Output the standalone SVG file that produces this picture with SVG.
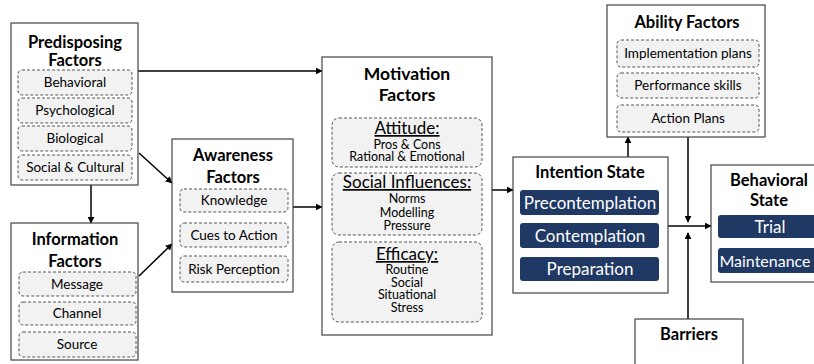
<svg xmlns="http://www.w3.org/2000/svg" width="814" height="364" viewBox="0 0 814 364">
<defs>
<marker id="ah" viewBox="0 0 10 10" refX="9" refY="5" markerWidth="7" markerHeight="7" markerUnits="userSpaceOnUse" orient="auto"><path d="M0,0 L10,5 L0,10 z" fill="#000"/></marker>
<style>
.box{fill:#fff;stroke:#444;stroke-width:1.2}
.sub{fill:#f2f2f2;stroke:#555;stroke-width:1;stroke-dasharray:3,2}
.navy{fill:#203864;stroke:none}
.t{font-family:Lato,"Liberation Sans",sans-serif;font-weight:bold;font-size:16.5px;fill:#000;text-anchor:middle}
.s{font-family:Lato,"Liberation Sans",sans-serif;font-size:13.5px;fill:#000;text-anchor:middle}
.m{font-family:Lato,"Liberation Sans",sans-serif;font-size:12.5px;fill:#000;text-anchor:middle}
.h{font-family:Lato,"Liberation Sans",sans-serif;font-size:17px;fill:#000;text-anchor:middle;text-decoration:underline}
.w{font-family:Lato,"Liberation Sans",sans-serif;font-size:17px;fill:#fff;text-anchor:middle}
.c{fill:none;stroke:#000;stroke-width:1.5}
</style>
</defs>
<rect width="814" height="364" fill="#fff"/>
<g id="connectors">
<path class="c" d="M138,71 H322" marker-end="url(#ah)"/>
<path class="c" d="M91,185 V223" marker-end="url(#ah)"/>
<path class="c" d="M139,153 L172,183" marker-end="url(#ah)"/>
<path class="c" d="M139,276 L172,244" marker-end="url(#ah)"/>
<path class="c" d="M293,207 H322" marker-end="url(#ah)"/>
<path class="c" d="M492,190 H513" marker-end="url(#ah)"/>
<path class="c" d="M628,157 V137" marker-end="url(#ah)"/>
<path class="c" d="M688,137 V222" marker-end="url(#ah)"/>
<path class="c" d="M668,226 H711" marker-end="url(#ah)"/>
<path class="c" d="M688,319 V233" marker-end="url(#ah)"/>
</g>
<g id="predisposing">
<rect class="box" x="11" y="23" width="127" height="162"/>
<text class="t" x="75" y="48">Predisposing</text>
<text class="t" x="75" y="66">Factors</text>
<rect class="sub" x="18" y="70" width="114" height="25" rx="4"/>
<text class="s" x="75" y="87">Behavioral</text>
<rect class="sub" x="18" y="98" width="114" height="25" rx="4"/>
<text class="s" x="75" y="115">Psychological</text>
<rect class="sub" x="18" y="126" width="114" height="25" rx="4"/>
<text class="s" x="75" y="143">Biological</text>
<rect class="sub" x="18" y="155" width="114" height="25" rx="4"/>
<text class="s" x="75" y="172">Social &amp; Cultural</text>
</g>
<g id="information">
<rect class="box" x="11" y="223" width="127" height="137"/>
<text class="t" x="75" y="245">Information</text>
<text class="t" x="75" y="267">Factors</text>
<rect class="sub" x="19" y="272" width="117" height="24" rx="4"/>
<text class="s" x="77" y="289">Message</text>
<rect class="sub" x="19" y="302" width="117" height="23" rx="4"/>
<text class="s" x="77" y="318">Channel</text>
<rect class="sub" x="19" y="332" width="117" height="25" rx="4"/>
<text class="s" x="77" y="349">Source</text>
</g>
<g id="awareness">
<rect class="box" x="172" y="139" width="121" height="153"/>
<text class="t" x="233" y="161">Awareness</text>
<text class="t" x="233" y="183">Factors</text>
<rect class="sub" x="180" y="189" width="108" height="23" rx="4"/>
<text class="s" x="234" y="205">Knowledge</text>
<rect class="sub" x="180" y="223" width="108" height="24" rx="4"/>
<text class="s" x="234" y="240">Cues to Action</text>
<rect class="sub" x="180" y="256" width="108" height="26" rx="4"/>
<text class="s" x="234" y="274">Risk Perception</text>
</g>
<g id="motivation">
<rect class="box" x="322" y="57" width="170" height="278"/>
<text class="t" x="407" y="80" style="font-size:17.5px">Motivation</text>
<text class="t" x="407" y="101" style="font-size:17.5px">Factors</text>
<rect class="sub" x="332" y="118" width="150" height="49" rx="7"/>
<text class="h" x="407" y="134">Attitude:</text>
<text class="m" x="407" y="149">Pros &amp; Cons</text>
<text class="m" x="407" y="161">Rational &amp; Emotional</text>
<rect class="sub" x="332" y="173" width="150" height="62" rx="7"/>
<text class="h" x="407" y="188">Social Influences:</text>
<text class="m" x="407" y="203">Norms</text>
<text class="m" x="407" y="217">Modelling</text>
<text class="m" x="407" y="230">Pressure</text>
<rect class="sub" x="332" y="242" width="150" height="80" rx="7"/>
<text class="h" x="407" y="260">Efficacy:</text>
<text class="m" x="407" y="274">Routine</text>
<text class="m" x="407" y="287">Social</text>
<text class="m" x="407" y="299">Situational</text>
<text class="m" x="407" y="312">Stress</text>
</g>
<g id="intention">
<rect class="box" x="513" y="157" width="155" height="136"/>
<text class="t" x="590" y="178">Intention State</text>
<rect class="navy" x="520" y="190" width="139" height="25" rx="3"/>
<text class="w" x="590" y="209">Precontemplation</text>
<rect class="navy" x="520" y="223" width="139" height="25" rx="3"/>
<text class="w" x="590" y="242">Contemplation</text>
<rect class="navy" x="520" y="257" width="139" height="24" rx="3"/>
<text class="w" x="590" y="275">Preparation</text>
</g>
<g id="ability">
<rect class="box" x="607" y="5" width="158" height="132"/>
<text class="t" x="687" y="28">Ability Factors</text>
<rect class="sub" x="617" y="40" width="142" height="27" rx="4"/>
<text class="s" x="688" y="58">Implementation plans</text>
<rect class="sub" x="617" y="73" width="142" height="25" rx="4"/>
<text class="s" x="688" y="90">Performance skills</text>
<rect class="sub" x="617" y="105" width="142" height="27" rx="4"/>
<text class="s" x="688" y="123">Action Plans</text>
</g>
<g id="behavioral">
<rect class="box" x="711" y="165" width="120" height="117"/>
<text class="t" x="769" y="186">Behavioral</text>
<text class="t" x="769" y="206">State</text>
<rect class="navy" x="718" y="215" width="110" height="23" rx="3"/>
<text class="w" x="770" y="233">Trial</text>
<rect class="navy" x="718" y="248" width="110" height="25" rx="3"/>
<text class="w" x="765" y="267" style="font-size:16px">Maintenance</text>
</g>
<g id="barriers">
<rect class="box" x="635" y="319" width="108" height="60"/>
<text class="t" x="689" y="340">Barriers</text>
</g>
</svg>
